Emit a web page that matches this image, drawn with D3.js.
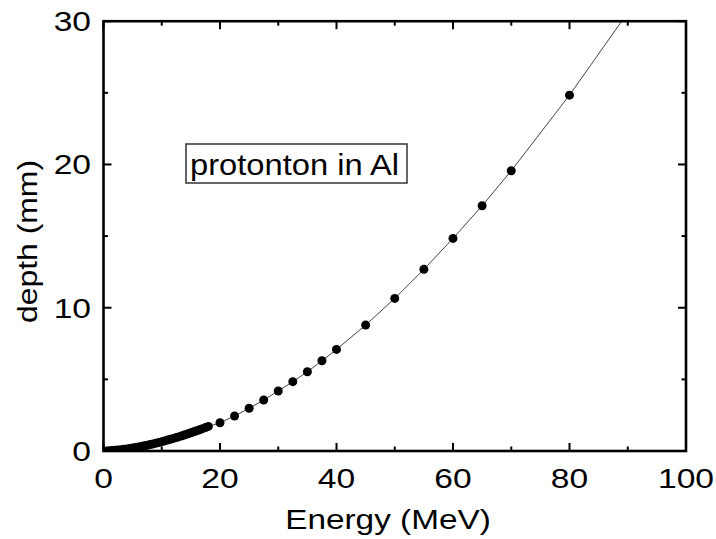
<!DOCTYPE html>
<html><head><meta charset="utf-8">
<script src="https://cdn.jsdelivr.net/npm/d3@7"></script>
<style>html,body{margin:0;padding:0;background:#fff;}svg{display:block;}</style>
</head><body>
<svg id="chart" width="716" height="539"></svg>
<script>
// Energy (MeV) and depth (mm) — proton range in Al
const energyMeV = [0.5,1,1.5,2,2.5,3,3.5,4,4.5,5,5.5,6,6.5,7,7.5,8,8.5,9,9.5,10,
  10.5,11,11.5,12,12.5,13,13.5,14,14.5,15,15.5,16,16.5,17,17.5,18,
  20,22.5,25,27.5,30,32.5,35,37.5,40,45,50,55,60,65,70,80,90];
const depthMm = [0.005,0.015,0.028,0.046,0.066,0.089,0.115,0.143,0.174,0.207,0.243,0.280,0.319,0.361,0.404,0.450,0.497,0.546,0.597,0.65,
  0.704,0.761,0.818,0.878,0.939,1.002,1.067,1.132,1.200,1.269,1.340,1.412,1.485,1.560,1.636,1.715,
  1.97,2.44,2.98,3.56,4.19,4.84,5.53,6.30,7.09,8.79,10.65,12.68,14.84,17.12,19.56,24.84,30.6];
const xTicks = [0,20,40,60,80,100];
const xMinor = [10,30,50,70,90];
const yTicks = [0,10,20,30];
const yMinor = [5,15,25];
const xTitle = "Energy (MeV)";
const yTitle = "depth (mm)";
const labelText = "protonton in Al";

const svg = d3.select("#chart");
const L = 103.5, R = 686, T = 21.2, B = 451;
const x = d3.scaleLinear().domain([0,100]).range([L,R]);
const y = d3.scaleLinear().domain([0,30]).range([B,T]);
const font = "'Liberation Sans', Arial, sans-serif";

svg.append("clipPath").attr("id","clip").append("rect")
  .attr("x",L).attr("y",T).attr("width",R-L).attr("height",B-T);

const data = energyMeV.map((e,i)=>({e, d: depthMm[i]}));
const g = svg.append("g").attr("clip-path","url(#clip)");
g.append("path").datum(data)
  .attr("fill","none").attr("stroke","#444").attr("stroke-width",1)
  .attr("d", d3.line().x(d=>x(d.e)).y(d=>y(d.d)));
g.selectAll("circle").data(data).enter().append("circle")
  .attr("cx",d=>x(d.e)).attr("cy",d=>y(d.d)).attr("r",4.5).attr("fill","#000");

// ticks (inward, mirrored)
const tk = svg.append("g").attr("stroke","#000").attr("stroke-width",2);
const addX = (vals,len)=>vals.forEach(v=>{
  tk.append("line").attr("x1",x(v)).attr("x2",x(v)).attr("y1",B).attr("y2",B-len);
  tk.append("line").attr("x1",x(v)).attr("x2",x(v)).attr("y1",T).attr("y2",T+len);
});
const addY = (vals,len)=>vals.forEach(v=>{
  tk.append("line").attr("y1",y(v)).attr("y2",y(v)).attr("x1",L).attr("x2",L+len);
  tk.append("line").attr("y1",y(v)).attr("y2",y(v)).attr("x1",R).attr("x2",R-len);
});
addX(xTicks,8); addX(xMinor,4.5); addY(yTicks,8); addY(yMinor,4.5);

// frame
svg.append("rect").attr("x",L).attr("y",T).attr("width",R-L).attr("height",B-T)
  .attr("fill","none").attr("stroke","#000").attr("stroke-width",2.6);

// tick labels
const sx = 1.2;
xTicks.forEach(v=>{
  svg.append("text").attr("transform",`translate(${x(v)},488) scale(${sx},1)`)
    .attr("text-anchor","middle").attr("font-family",font).attr("font-size",28)
    .attr("fill","#000").text(v);
});
yTicks.forEach(v=>{
  svg.append("text").attr("transform",`translate(91,${y(v)+10}) scale(${sx},1)`)
    .attr("text-anchor","end").attr("font-family",font).attr("font-size",28)
    .attr("fill","#000").text(v);
});
svg.append("text").attr("transform",`translate(388,529) scale(1.19,1)`)
  .attr("text-anchor","middle").attr("font-family",font).attr("font-size",28)
  .attr("fill","#000").text(xTitle);
svg.append("text").attr("transform",`translate(37,241.5) rotate(-90) scale(1.14,1)`)
  .attr("text-anchor","middle").attr("font-family",font).attr("font-size",28)
  .attr("fill","#000").text(yTitle);

// annotation box
svg.append("rect").attr("x",186).attr("y",144).attr("width",221).attr("height",39)
  .attr("fill","#fff").attr("stroke","#333").attr("stroke-width",1.5);
svg.append("text").attr("transform",`translate(190,175) scale(1.09,1)`)
  .attr("font-family",font).attr("font-size",30).attr("fill","#000").text(labelText);
</script>
</body></html>
